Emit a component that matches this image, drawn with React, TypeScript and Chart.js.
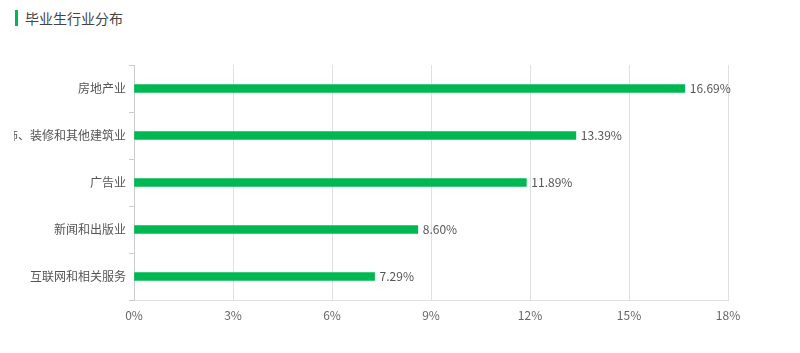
import React, { useEffect, useRef } from "react";
import { Chart, registerables } from "chart.js";

Chart.register(...registerables);

const categories = ["房地产业", "建筑装饰、装修和其他建筑业", "广告业", "新闻和出版业", "互联网和相关服务"];
const shares = [16.69, 13.39, 11.89, 8.6, 7.29];
const xTicks = [0, 3, 6, 9, 12, 15, 18];

const GREEN = "#00b852";
const FONT = "'Noto Sans CJK SC', 'Noto Sans', sans-serif";

const valueLabels = {
  id: "valueLabels",
  afterDatasetsDraw(chart: any) {
    const ctx = chart.ctx;
    const meta = chart.getDatasetMeta(0);
    ctx.save();
    ctx.font = `12px ${FONT}`;
    ctx.fillStyle = "#555";
    ctx.textAlign = "left";
    ctx.textBaseline = "middle";
    meta.data.forEach((el: any, i: number) => {
      const v = chart.data.datasets[0].data[i] as number;
      ctx.fillText(v.toFixed(2) + "%", el.x + 5, el.y);
    });
    ctx.restore();
  },
};

export default function App() {
  const ref = useRef<HTMLCanvasElement | null>(null);
  useEffect(() => {
    if (!ref.current) return;
    const chart = new Chart(ref.current, {
      type: "bar",
      data: {
        labels: categories,
        datasets: [
          {
            data: shares,
            backgroundColor: GREEN,
            barThickness: 8,
          },
        ],
      },
      options: {
        indexAxis: "y",
        animation: false,
        responsive: false,
        maintainAspectRatio: false,
        layout: { padding: { top: 25, right: 30, left: 0, bottom: 0 } },
        plugins: { legend: { display: false }, tooltip: { enabled: false } },
        scales: {
          x: {
            min: 0,
            max: 18,
            afterBuildTicks(scale: any) {
              scale.ticks = xTicks.map((v) => ({ value: v }));
            },
            afterFit(scale: any) {
              scale.height = 40;
            },
            grid: { color: "#e0e0e0", drawTicks: false },
            border: { color: "#e0e0e0" },
            ticks: {
              padding: 8,
              color: "#666",
              font: { size: 12, family: FONT },
              callback: (v: any) => v + "%",
            },
          },
          y: {
            afterFit(scale: any) {
              scale.width = 120;
            },
            grid: {
              offset: true,
              drawOnChartArea: false,
              tickLength: 5,
              color: (c: any) => (c.index === categories.length ? "rgba(0,0,0,0)" : "#ccc"),
            },
            border: { color: "#ccc" },
            ticks: {
              padding: 3,
              color: "#555",
              font: { size: 12, family: FONT },
              autoSkip: false,
            },
          },
        },
      },
      plugins: [valueLabels],
    });
    return () => chart.destroy();
  }, []);

  return (
    <div style={{ position: "relative", width: 800, height: 353, margin: -8, background: "#fff", overflow: "hidden" }}>
      <div style={{ position: "absolute", left: 15, top: 10, width: 3, height: 16, background: GREEN }} />
      <div
        style={{
          position: "absolute",
          left: 25,
          top: 8,
          fontFamily: FONT,
          fontSize: 14,
          lineHeight: "20px",
          color: "#444",
        }}
      >
        毕业生行业分布
      </div>
      <canvas ref={ref} width={744} height={300} style={{ position: "absolute", left: 14, top: 40, width: 744, height: 300 }} />
    </div>
  );
}
